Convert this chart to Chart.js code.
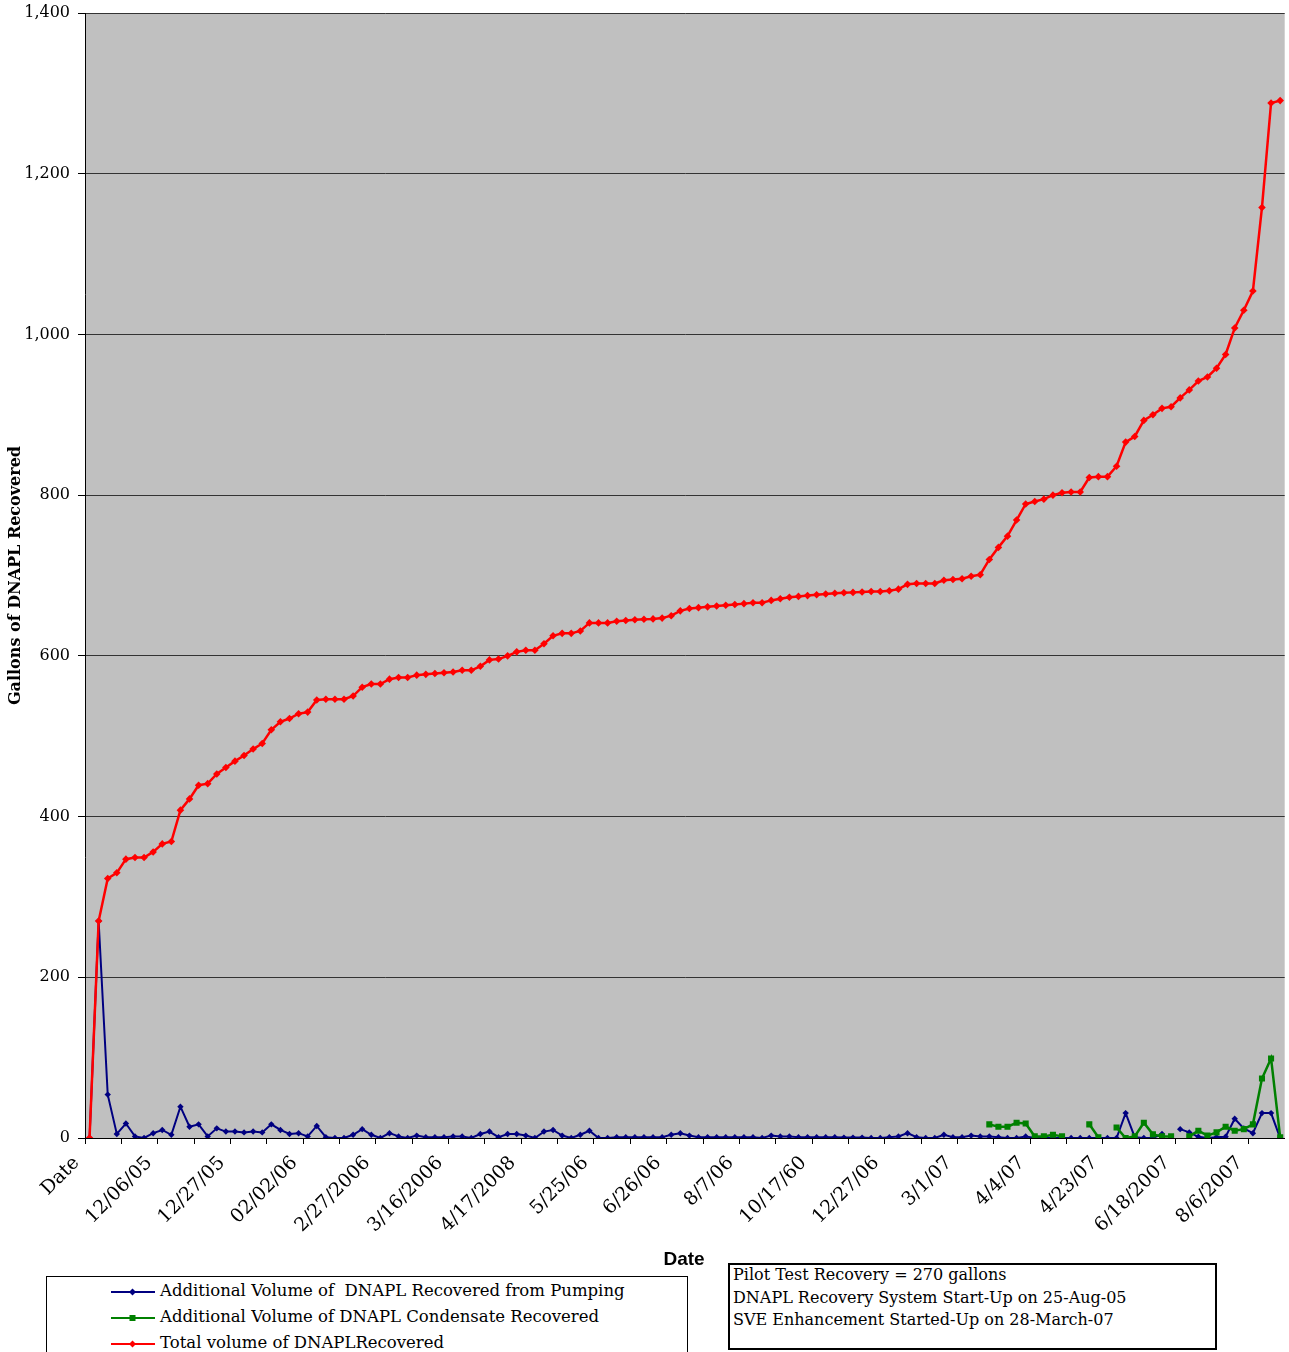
<!DOCTYPE html>
<html>
<head>
<meta charset="utf-8">
<script src="https://cdn.jsdelivr.net/npm/chart.js@4.4.1/dist/chart.umd.min.js"></script>
<style>
  html, body { margin:0; padding:0; background:#fff; width:1289px; height:1352px; overflow:hidden; }
  #wrap { position:relative; width:1289px; height:1352px; }
  #c { position:absolute; left:0; top:0; }
  .xtitle { position:absolute; left:634px; width:100px; top:1248px; text-align:center;
            font-family:"Liberation Sans", Arial, sans-serif; font-weight:bold; font-size:19px; color:#000; }
  .legend { position:absolute; left:46px; top:1276px; width:642px; height:110px; border:1px solid #000;
            box-sizing:border-box; background:#fff; font-family:"DejaVu Serif", serif; font-size:16.5px; color:#000; }
  .row { position:absolute; left:64px; height:26px; line-height:26px; white-space:pre; }
  .row svg { vertical-align:middle; margin-right:5px; }
  .note { position:absolute; left:728px; top:1263px; width:489px; height:87px; border:2px solid #000;
          box-sizing:border-box; background:#fff; font-family:"DejaVu Serif", serif; font-size:16px; color:#000;
          line-height:22.5px; padding-left:3px; padding-top:0; white-space:pre; }
  .note div { margin-top:-1px; }
</style>
</head>
<body>
<div id="wrap">
  <canvas id="c" width="1289" height="1352"></canvas>
  <div class="xtitle">Date</div>
  <div class="legend" id="legend"></div>
  <div class="note"><div>Pilot Test Recovery = 270 gallons
DNAPL Recovery System Start-Up on 25-Aug-05
SVE Enhancement Started-Up on 28-March-07</div></div>
</div>
<script>
// ---- data ----
const tickLabels = ['Date','12/06/05','12/27/05','02/02/06','2/27/2006','3/16/2006','4/17/2008','5/25/06',
  '6/26/06','8/7/06','10/17/60','12/27/06','3/1/07','4/4/07','4/23/07','6/18/2007','8/6/2007'];
const labelEvery = 8;
const categoryCount = 132;
const categories = Array.from({length: categoryCount}, (_, i) => (i % labelEvery === 0 ? tickLabels[i / labelEvery] : ''));

const pumping = [0,270,54,5,18,2,0,6,10,4,
  39,14,17,2,12,8,8,7,8,7,
  17,10,5,6,2,15,1,0,0,4,
  11,4,0,6,2,0,3,1,1,1,
  2,2,0,5,8,1,5,5,3,0,
  8,10,3,0,4,9,0,0,1,1,
  1,1,1,1,4,6,3,1,1,1,
  1,1,1,1,0,3,2,2,1,1,
  1,1,1,0.5,0.5,0.5,0,0,1,2,
  6,1,0,0,4,1,1,3,2,2,
  1,0,0,2,0,0,0,0,0,0,
  0,0,0,0,31,1,0,0,5,null,
  11,7,1.5,0,1,1.5,24,12,6,31,31,0];

const condensate = [null,null,null,null,null,null,null,null,null,null,
  null,null,null,null,null,null,null,null,null,null,
  null,null,null,null,null,null,null,null,null,null,
  null,null,null,null,null,null,null,null,null,null,
  null,null,null,null,null,null,null,null,null,null,
  null,null,null,null,null,null,null,null,null,null,
  null,null,null,null,null,null,null,null,null,null,
  null,null,null,null,null,null,null,null,null,null,
  null,null,null,null,null,null,null,null,null,null,
  null,null,null,null,null,null,null,null,null,17,
  14,14,19,18,2,2,4,2,null,null,
  17,1,null,13,0,2,19,4.5,2,2,
  null,2,9,3,7,14,9,11,17,74,99,1];

const total = [0,270,323,330,347,349,349,356,366,369,
  408,422,439,441,453,461,469,476,484,491,
  508,518,522,528,530,545,546,546,546,550,
  561,565,565,571,573,573,576,577,578,579,
  580,582,582,587,595,596,600,605,607,607,
  615,625,628,628,631,641,641,641,643,644,
  645,645.5,646,647,650,656,659,660,661,662,
  663,664,665,666,666,669,671,673,674,675,
  676,677,678,678.5,679,679.5,680,680,681,683,
  689,690,690,690,694,695,696,699,701,720,
  735,749,769,789,792,795,800,803,804,804,
  822,823,823,836,866,873,893,900,908,910,
  921,931,942,947,958,975,1008,1030,1054,1158,1288,1291];

const seriesNames = ['Additional Volume of  DNAPL Recovered from Pumping',
  'Additional Volume of DNAPL Condensate Recovered',
  'Total volume of DNAPLRecovered'];
const seriesColors = ['#000080', '#008000', '#FF0000'];

// ---- chart ----
const bgPlugin = {
  id: 'plotBg',
  beforeDraw(chart) {
    const {ctx, chartArea: a} = chart;
    ctx.save();
    ctx.fillStyle = '#C0C0C0';
    ctx.fillRect(a.left, a.top, a.right - a.left, a.bottom - a.top);
    ctx.restore();
  }
};

new Chart(document.getElementById('c'), {
  type: 'line',
  data: {
    labels: categories,
    datasets: [
      { label: seriesNames[0], data: pumping, borderColor: seriesColors[0], backgroundColor: seriesColors[0],
        borderWidth: 2, pointStyle: 'rectRot', pointRadius: 3.2, pointBorderWidth: 0, spanGaps: false, order: 2, tension: 0 },
      { label: seriesNames[1], data: condensate, borderColor: seriesColors[1], backgroundColor: seriesColors[1],
        borderWidth: 2.5, pointStyle: 'rect', pointRadius: 4.3, pointBorderWidth: 0, spanGaps: false, order: 1, tension: 0 },
      { label: seriesNames[2], data: total, borderColor: seriesColors[2], backgroundColor: seriesColors[2],
        borderWidth: 2.5, pointStyle: 'rectRot', pointRadius: 3.8, pointBorderWidth: 0, spanGaps: false, order: 0, tension: 0 }
    ]
  },
  options: {
    responsive: false,
    devicePixelRatio: 1,
    animation: false,
    layout: { padding: { left: 0, top: 13, right: 4, bottom: 0 } },
    plugins: { legend: { display: false }, tooltip: { enabled: false } },
    scales: {
      x: {
        type: 'category',
        offset: true,
        grid: { offset: true, drawOnChartArea: false, drawTicks: true, tickLength: 6, lineWidth: 1,
                color: (c) => (c.index % 4 === 0 ? '#000' : 'rgba(0,0,0,0)') },
        border: { display: true, color: '#000', width: 1 },
        ticks: { autoSkip: false, maxRotation: 45, minRotation: 45, padding: 8, labelOffset: -13, color: '#000',
                 font: { family: 'DejaVu Serif', size: 19 },
                 callback: (v, i) => categories[i] },
        afterFit: (s) => { s.height = 214; s.paddingLeft = 0; s.paddingRight = 0; }
      },
      y: {
        min: 0, max: 1400,
        ticks: { stepSize: 200, padding: 8, color: '#000', font: { family: 'DejaVu Serif', size: 16 },
                 callback: (v) => v.toLocaleString('en-US') },
        grid: { color: '#333', tickColor: '#000', tickLength: 7, lineWidth: 1 },
        border: { display: true, color: '#000', width: 1 },
        title: { display: true, text: 'Gallons of DNAPL Recovered', color: '#000',
                 font: { family: 'DejaVu Serif', size: 16, weight: 'bold' }, padding: { top: 6, bottom: 0 } },
        afterFit: (s) => { s.width = 85; s.paddingTop = 0; s.paddingBottom = 0; }
      }
    }
  },
  plugins: [bgPlugin]
});

// ---- HTML legend (real text) ----
const legend = document.getElementById('legend');
const markers = ['<path d="M21.5 1.5 L25 5 L21.5 8.5 L18 5 Z"/>', '<rect x="18.5" y="2" width="6" height="6"/>', '<path d="M21.5 1.5 L25 5 L21.5 8.5 L18 5 Z"/>'];
const rowTops = [1, 27, 53];
seriesNames.forEach((name, k) => {
  const row = document.createElement('div');
  row.className = 'row';
  row.style.top = rowTops[k] + 'px';
  row.innerHTML = '<svg width="44" height="10" fill="' + seriesColors[k] + '"><line x1="0" y1="5" x2="44" y2="5" stroke="' +
    seriesColors[k] + '" stroke-width="2"/>' + markers[k] + '</svg>';
  const span = document.createElement('span');
  span.textContent = name;
  row.appendChild(span);
  legend.appendChild(row);
});
</script>
</body>
</html>
